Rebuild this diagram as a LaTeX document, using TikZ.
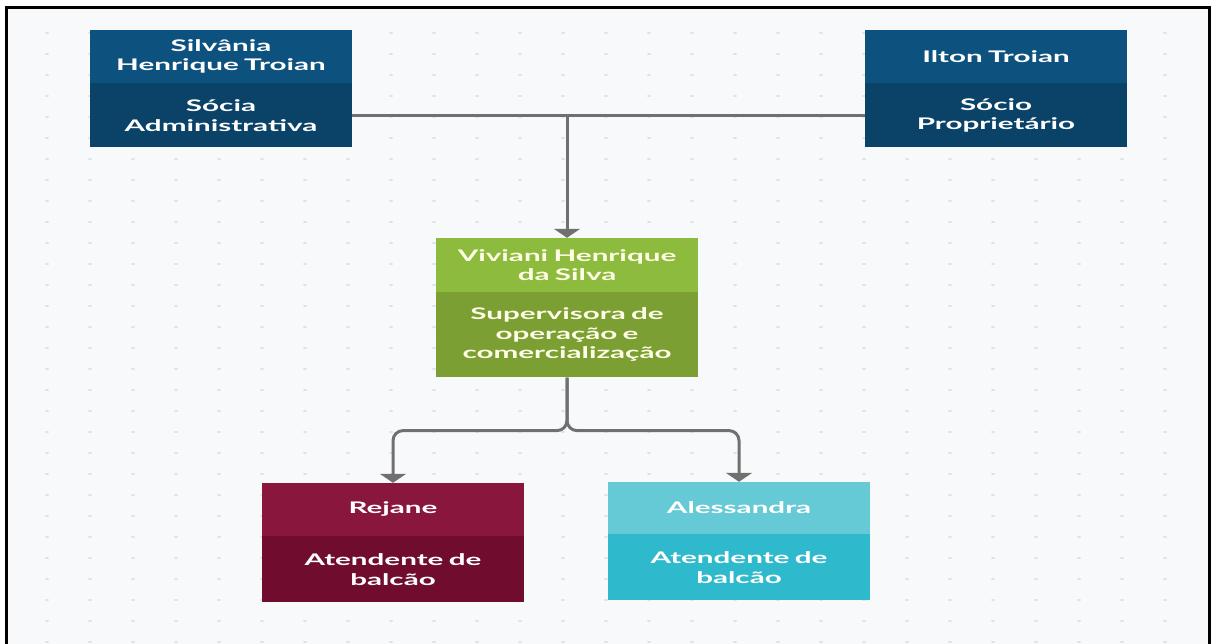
\documentclass[tikz,border=0pt]{standalone}
\usepackage{fontspec}
\setmainfont{Lato}[FakeStretch=1.85]
\usetikzlibrary{arrows.meta,positioning}

\definecolor{bggray}{HTML}{F8F9FB}
\definecolor{dotgray}{HTML}{E0E2E6}
\definecolor{linkgray}{HTML}{707070}
\definecolor{bluetop}{HTML}{0D517F}
\definecolor{bluebot}{HTML}{0A4268}
\definecolor{greentop}{HTML}{8CBB3E}
\definecolor{greenbot}{HTML}{7B9F33}
\definecolor{redtop}{HTML}{89163C}
\definecolor{redbot}{HTML}{700D2E}
\definecolor{cyantop}{HTML}{66C9D6}
\definecolor{cyanbot}{HTML}{2EBACC}

\begin{document}
\begin{tikzpicture}[
  x=1pt, y=-1pt,
  namebox/.style={rectangle, minimum width=262pt, text width=262pt, inner sep=0pt,
    align=center, text=white, font=\fontsize{16}{19.5}\selectfont\bfseries},
  link/.style={-{Triangle[width=26pt,length=9pt]}, line width=3pt, draw=linkgray},
  line/.style={line width=3pt, draw=linkgray}
]
  \useasboundingbox (0,0) rectangle (1212,644);
  \fill[white] (0,0) rectangle (1212,644);
  \fill[bggray] (6,8) rectangle (1209,644);
  \foreach \x in {47,90,...,1166}
    \foreach \y in {33,54,...,642}
      \fill[dotgray] (\x,\y) ellipse (2pt and 1pt);
  \draw[line width=3pt] (6,644) -- (6,8) -- (1209,8) -- (1209,644);

  \node[namebox, fill=bluetop, minimum height=53pt] (p1) at (221,56.5) {Silvânia\\Henrique Troian};
  \node[namebox, fill=bluebot, minimum height=64pt, below=0pt of p1] (r1) {Sócia\\Administrativa};

  \node[namebox, fill=bluetop, minimum height=53pt] (p2) at (996,56.5) {Ilton Troian};
  \node[namebox, fill=bluebot, minimum height=64pt, below=0pt of p2] (r2) {Sócio\\Proprietário};

  \node[namebox, fill=greentop, minimum height=54pt, text=white!90!yellow] (p3) at (567,265) {Viviani Henrique\\da Silva};
  \node[namebox, fill=greenbot, minimum height=85pt, text=white!90!yellow, below=0pt of p3] (r3) {Supervisora de\\operação e\\comercialização};

  \node[namebox, fill=redtop, minimum height=53pt] (p4) at (393,509.5) {Rejane};
  \node[namebox, fill=redbot, minimum height=66pt, below=0pt of p4] (r4) {Atendente de\\balcão};

  \node[namebox, fill=cyantop, minimum height=52pt] (p5) at (739,508) {Alessandra};
  \node[namebox, fill=cyanbot, minimum height=66pt, below=0pt of p5] (r5) {Atendente de\\balcão};

  \draw[line] (r1.east) -- (r2.west);
  \draw[link] (p3.north |- r1.east) -- (p3.north);
  \draw[link, rounded corners=10pt] (r3.south) -- ++(0,53) -| (p4.north);
  \draw[link, rounded corners=10pt] (r3.south) -- ++(0,53) -| (p5.north);

\end{tikzpicture}
\end{document}
